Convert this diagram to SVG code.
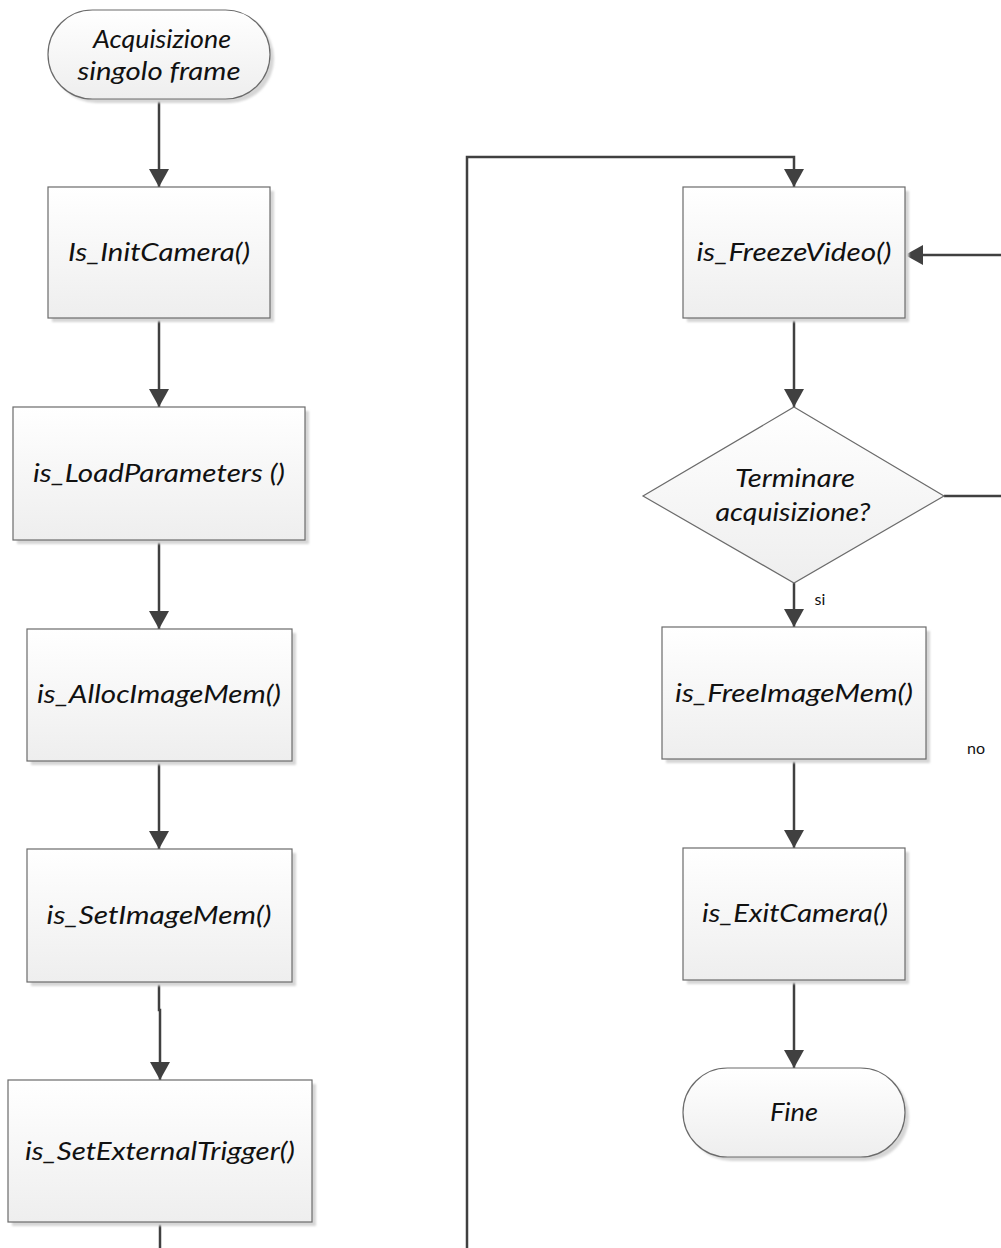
<svg xmlns="http://www.w3.org/2000/svg" width="1001" height="1248" viewBox="0 0 1001 1248">
  <defs>
    <linearGradient id="fillGrad" x1="0" y1="0" x2="0" y2="1">
      <stop offset="0" stop-color="#ffffff"/>
      <stop offset="1" stop-color="#eeeeee"/>
    </linearGradient>
    <filter id="soft" x="-5%" y="-5%" width="110%" height="110%">
      <feGaussianBlur stdDeviation="1"/>
    </filter>
    <marker id="arrow" viewBox="0 0 18 20" refX="18" refY="10" markerWidth="18" markerHeight="20" markerUnits="userSpaceOnUse" orient="auto">
      <path d="M0 0 L18 10 L0 20 z" fill="#404040"/>
    </marker>
  </defs>
  <style>
    .shape { fill: url(#fillGrad); stroke: #6b6b6b; stroke-width: 1.2; }
    .shadow { fill: #d6d6d6; filter: url(#soft); }
    .label { font-family: Lato, "Open Sans", sans-serif; font-style: italic; font-size: 25px; fill: #111111; text-anchor: middle; }
    .small { font-family: Lato, "Open Sans", sans-serif; font-size: 16px; fill: #111111; text-anchor: middle; }
    .conn { fill: none; stroke: #404040; stroke-width: 2.5; }
  </style>

  <rect width="1001" height="1248" fill="#ffffff"/>

  <!-- connectors -->
  <g id="connectors">
    <path class="conn" d="M159 99 V187" marker-end="url(#arrow)"/>
    <path class="conn" d="M159 318 V407" marker-end="url(#arrow)"/>
    <path class="conn" d="M159 540 V629" marker-end="url(#arrow)"/>
    <path class="conn" d="M159 761 V849" marker-end="url(#arrow)"/>
    <path class="conn" d="M159 982 V1010 H160 V1080" marker-end="url(#arrow)"/>
    <path class="conn" d="M160 1222 V1252"/>
    <path class="conn" d="M467 1252 V157 H794 V187" marker-end="url(#arrow)"/>
    <path class="conn" d="M794 318 V407" marker-end="url(#arrow)"/>
    <path class="conn" d="M794 583 V627" marker-end="url(#arrow)"/>
    <path class="conn" d="M944 496 H1004 V255 H905" marker-end="url(#arrow)"/>
    <path class="conn" d="M794 759 V848" marker-end="url(#arrow)"/>
    <path class="conn" d="M794 980 V1068" marker-end="url(#arrow)"/>
    <text class="small" x="820" y="605">si</text>
    <text class="small" x="976" y="754">no</text>
  </g>

  <!-- start terminator -->
  <g id="start">
    <rect class="shadow" x="52" y="14" width="222" height="89" rx="44.5"/>
    <rect class="shape" x="48" y="10" width="222" height="89" rx="44.5"/>
    <text class="label" x="162" y="48" textLength="138" lengthAdjust="spacingAndGlyphs">Acquisizione</text>
    <text class="label" x="159" y="80" textLength="163" lengthAdjust="spacingAndGlyphs">singolo frame</text>
  </g>

  <g id="initCamera">
    <rect class="shadow" x="52" y="191" width="222" height="131"/>
    <rect class="shape" x="48" y="187" width="222" height="131"/>
    <text class="label" x="159" y="261" textLength="182" lengthAdjust="spacingAndGlyphs">Is_InitCamera()</text>
  </g>

  <g id="loadParameters">
    <rect class="shadow" x="17" y="411" width="292" height="133"/>
    <rect class="shape" x="13" y="407" width="292" height="133"/>
    <text class="label" x="159" y="482" textLength="252" lengthAdjust="spacingAndGlyphs">is_LoadParameters ()</text>
  </g>

  <g id="allocImageMem">
    <rect class="shadow" x="31" y="633" width="265" height="132"/>
    <rect class="shape" x="27" y="629" width="265" height="132"/>
    <text class="label" x="159" y="703" textLength="244" lengthAdjust="spacingAndGlyphs">is_AllocImageMem()</text>
  </g>

  <g id="setImageMem">
    <rect class="shadow" x="31" y="853" width="265" height="133"/>
    <rect class="shape" x="27" y="849" width="265" height="133"/>
    <text class="label" x="159" y="924" textLength="225" lengthAdjust="spacingAndGlyphs">is_SetImageMem()</text>
  </g>

  <g id="setExternalTrigger">
    <rect class="shadow" x="12" y="1084" width="304" height="142"/>
    <rect class="shape" x="8" y="1080" width="304" height="142"/>
    <text class="label" x="160" y="1160" textLength="270" lengthAdjust="spacingAndGlyphs">is_SetExternalTrigger()</text>
  </g>

  <g id="freezeVideo">
    <rect class="shadow" x="687" y="191" width="222" height="131"/>
    <rect class="shape" x="683" y="187" width="222" height="131"/>
    <text class="label" x="794" y="261" textLength="195" lengthAdjust="spacingAndGlyphs">is_FreezeVideo()</text>
  </g>

  <g id="decision">
    <polygon class="shape" points="794,407 944,496 794,583 643,496"/>
    <text class="label" x="795" y="487" textLength="120" lengthAdjust="spacingAndGlyphs">Terminare</text>
    <text class="label" x="793" y="521" textLength="155" lengthAdjust="spacingAndGlyphs">acquisizione?</text>
  </g>

  <g id="freeImageMem">
    <rect class="shadow" x="666" y="631" width="264" height="132"/>
    <rect class="shape" x="662" y="627" width="264" height="132"/>
    <text class="label" x="794" y="702" textLength="238" lengthAdjust="spacingAndGlyphs">is_FreeImageMem()</text>
  </g>

  <g id="exitCamera">
    <rect class="shadow" x="687" y="852" width="222" height="132"/>
    <rect class="shape" x="683" y="848" width="222" height="132"/>
    <text class="label" x="795" y="922" textLength="186" lengthAdjust="spacingAndGlyphs">is_ExitCamera()</text>
  </g>

  <g id="end">
    <rect class="shadow" x="687" y="1072" width="222" height="89" rx="44.5"/>
    <rect class="shape" x="683" y="1068" width="222" height="89" rx="44.5"/>
    <text class="label" x="794" y="1121" textLength="48" lengthAdjust="spacingAndGlyphs">Fine</text>
  </g>
</svg>
